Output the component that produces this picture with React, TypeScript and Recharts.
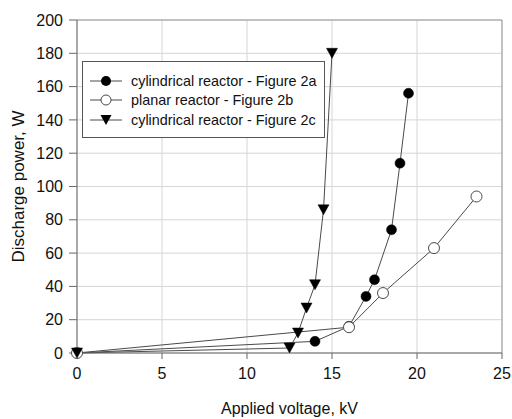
import React from 'react';
import { CartesianGrid, Line, LineChart, ReferenceLine, XAxis, YAxis } from 'recharts';

const voltage2a = [0, 14, 16, 17, 17.5, 18.5, 19, 19.5];
const power2a = [0, 7, 16, 34, 44, 74, 114, 156];

const voltage2b = [0, 16, 18, 21, 23.5];
const power2b = [0, 15.5, 36, 63, 94];

const voltage2c = [0, 12.5, 13, 13.5, 14, 14.5, 15];
const power2c = [0, 3, 12, 27, 41, 86, 180];

const xTicks = [0, 5, 10, 15, 20, 25];
const yTicks = [0, 20, 40, 60, 80, 100, 120, 140, 160, 180, 200];

const seriesNames = [
  'cylindrical reactor - Figure 2a',
  'planar reactor - Figure 2b',
  'cylindrical reactor - Figure 2c',
];

const zip = (xs: number[], ys: number[]) => xs.map((v, i) => ({ v, p: ys[i] }));

const data2a = zip(voltage2a, power2a);
const data2b = zip(voltage2b, power2b);
const data2c = zip(voltage2c, power2c);

const FONT = "'Liberation Sans', Arial, sans-serif";
const LINE = '#4a4a4a';

const triangle = (cx: number, cy: number) =>
  `M${cx - 5.5},${cy - 5} L${cx + 5.5},${cy - 5} L${cx},${cy + 5} Z`;

const TriangleDot = (props: any) => {
  const { cx, cy, index } = props;
  if (cx == null || cy == null) return <g key={`t-${index}`} />;
  return <path key={`t-${index}`} d={triangle(cx, cy)} fill="#000" stroke="#000" strokeWidth={0.5} />;
};

const LegendMarker = ({ kind }: { kind: number }) => (
  <svg width={42} height={14} style={{ display: 'block', flex: 'none' }}>
    <line x1={7} y1={7} x2={39} y2={7} stroke={LINE} strokeWidth={1} />
    {kind === 0 && <circle cx={23} cy={7} r={5} fill="#000" />}
    {kind === 1 && <circle cx={23} cy={7} r={5} fill="#fff" stroke={LINE} strokeWidth={1} />}
    {kind === 2 && <path d={triangle(23, 7)} fill="#000" />}
  </svg>
);

const LegendBox = () => (
  <div
    style={{
      position: 'absolute',
      left: 82,
      top: 61,
      boxSizing: 'border-box',
      width: 243,
      height: 77,
      border: '1px solid #555',
      background: '#fff',
      paddingTop: 9,
      fontFamily: FONT,
      fontSize: 14.4,
      color: '#111',
    }}
  >
    {seriesNames.map((name, i) => (
      <div key={name} style={{ display: 'flex', alignItems: 'center', height: 19.5, whiteSpace: 'nowrap' }}>
        <LegendMarker kind={i} />
        <span style={{ marginLeft: 6 }}>{name}</span>
      </div>
    ))}
  </div>
);

export default function App() {
  return (
    <div style={{ position: 'absolute', left: 0, top: 0, width: 512, height: 419, background: '#fff' }}>
      <LineChart width={512} height={419} margin={{ top: 20, right: 10, bottom: 0, left: 0 }}>
        <CartesianGrid stroke="#d6d6d6" strokeWidth={1} />
        <XAxis
          type="number"
          dataKey="v"
          domain={[0, 25]}
          ticks={xTicks}
          allowDuplicatedCategory={false}
          height={66}
          stroke="#666"
          tickSize={6}
          tickMargin={9}
          tick={{ fill: '#111', fontSize: 16, fontFamily: FONT }}
          label={{ value: 'Applied voltage, kV', position: 'insideBottom', offset: 5, fill: '#111', fontSize: 16, fontFamily: FONT }}
        />
        <YAxis
          type="number"
          domain={[0, 200]}
          ticks={yTicks}
          width={77}
          stroke="#666"
          tickSize={8}
          tickMargin={6}
          tick={{ fill: '#111', fontSize: 16, fontFamily: FONT }}
          label={{
            value: 'Discharge power, W',
            angle: -90,
            position: 'insideLeft',
            offset: 18,
            fill: '#111',
            fontSize: 17,
            fontFamily: FONT,
            style: { textAnchor: 'middle' },
          }}
        />
        <ReferenceLine y={200} stroke="#999" />
        <ReferenceLine x={25} stroke="#999" />
        <Line
          data={data2a}
          dataKey="p"
          name={seriesNames[0]}
          stroke={LINE}
          strokeWidth={1}
          isAnimationActive={false}
          dot={{ r: 5, fill: '#000', stroke: '#000', strokeWidth: 0.5 }}
          activeDot={false}
        />
        <Line
          data={data2b}
          dataKey="p"
          name={seriesNames[1]}
          stroke={LINE}
          strokeWidth={1}
          isAnimationActive={false}
          dot={{ r: 5.5, fill: '#fff', stroke: LINE, strokeWidth: 1 }}
          activeDot={false}
        />
        <Line
          data={data2c}
          dataKey="p"
          name={seriesNames[2]}
          stroke={LINE}
          strokeWidth={1}
          isAnimationActive={false}
          dot={TriangleDot}
          activeDot={false}
        />
      </LineChart>
      <LegendBox />
    </div>
  );
}
